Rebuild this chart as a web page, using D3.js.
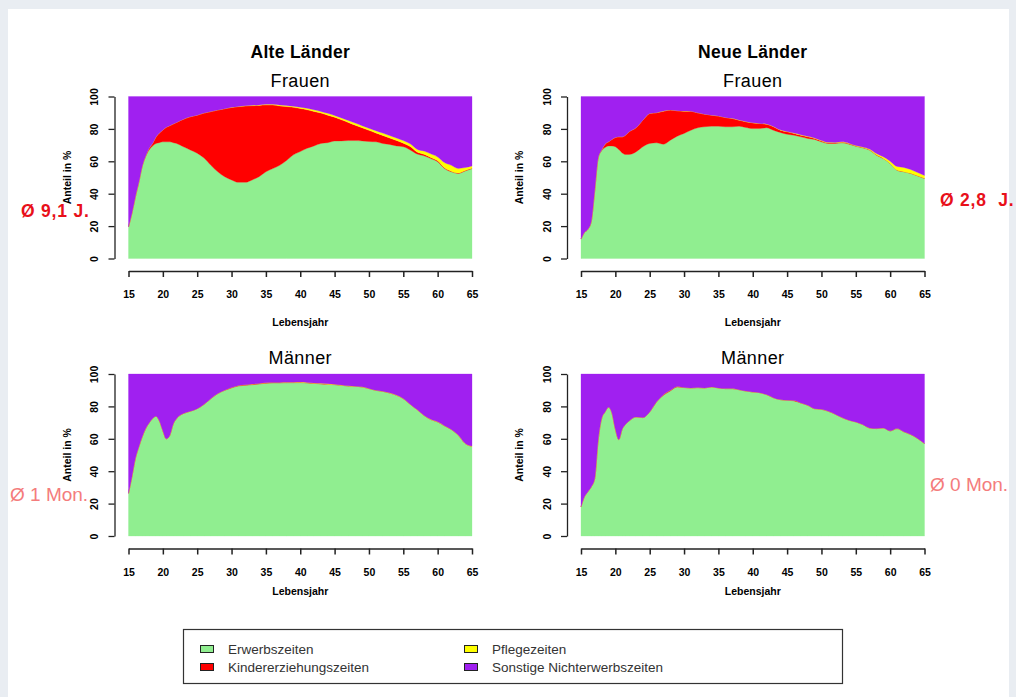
<!DOCTYPE html>
<html>
<head>
<meta charset="utf-8">
<script src="https://cdn.jsdelivr.net/npm/d3@7"></script>
<style>
  html, body { margin: 0; padding: 0; background: #e9edf2; }
  svg { display: block; font-family: "Liberation Sans", Arial, sans-serif; }
</style>
</head>
<body>
<svg id="chart" width="1016" height="697"></svg>
<script>
// Age grid (years); finer steps in the late teens where shares change quickly
const ages = [15, 15.5, 16, 16.5, 17, 17.5, 18, 18.5, 19, 19.5, 20, 20.5, 21, 21.5, 22,
  23, 24, 25, 26, 27, 28, 29, 30, 31, 32, 33, 34, 35, 36, 37, 38, 39, 40,
  41, 42, 43, 44, 45, 46, 47, 48, 49, 50, 51, 52, 53, 54, 55, 56, 57, 58, 59, 60,
  61, 62, 63, 64, 65];

const xTicks = [15, 20, 25, 30, 35, 40, 45, 50, 55, 60, 65];
const yTicks = [0, 20, 40, 60, 80, 100];

const categories = ["Erwerbszeiten", "Kindererziehungszeiten", "Pflegezeiten", "Sonstige Nichterwerbszeiten"];
const categoryColors = ["#90ee90", "#ff0000", "#ffff00", "#a020f0"];

// Alte Länder, Frauen (shares in %)
const altFrauenErwerb = [19.5, 28, 38, 47, 57, 63, 67, 69.5, 71, 71.5, 72, 72, 72, 71.5, 71,
  69, 67, 65, 62, 57.5, 53.5, 50.5, 48.5, 47, 47, 48.5, 50.5, 53.5, 55.5, 57.5, 60.5, 64, 66,
  68, 69.5, 71, 71.5, 72.5, 72.6, 72.8, 72.8, 72.6, 72.2, 72, 71, 70.4, 69.5, 69, 67, 64.5, 63.4, 61.7, 59.7,
  55.5, 53.5, 52.5, 54, 55.5];
const altFrauenKinder = [0, 0, 0, 0, 0, 0.3, 1, 1.5, 4, 6, 7.3, 9, 10, 11.5, 13,
  17, 20.5, 23.5, 27.8, 33.2, 38.1, 41.9, 44.7, 46.7, 47.1, 45.8, 44, 41.2, 39.2, 36.7, 33.3, 29.3, 26.6,
  23.8, 21.3, 18.8, 17, 14.7, 13, 11.2, 9.5, 8.1, 6.9, 5.5, 5, 4, 3.4, 2.2, 2.1, 1.2, 0.9, 0.7, 0.6,
  0.5, 0.4, 0.3, 0.3, 0.2];
const altFrauenPflege = [0, 0, 0, 0, 0, 0, 0, 0, 0, 0, 0, 0, 0, 0, 0,
  0, 0, 0, 0, 0, 0.1, 0.1, 0.1, 0.2, 0.2, 0.3, 0.3, 0.5, 0.5, 0.6, 0.7, 0.7, 0.8,
  0.9, 1.0, 1.0, 1.1, 1.1, 1.2, 1.2, 1.3, 1.3, 1.3, 1.4, 1.4, 1.5, 1.5, 1.6, 1.7, 1.8, 2.0, 2.2, 2.4,
  3.2, 3.6, 2.8, 1.8, 1.4];

// Neue Länder, Frauen
const neuFrauenErwerb = [12, 16, 18, 23, 42, 62, 66.5, 68.5, 69.5, 69.5, 69, 67.3, 65.2, 64.2, 64.2,
  65.8, 69, 71, 71.4, 70.5, 73, 75.5, 77.2, 79.2, 80.7, 81.3, 81.7, 81.7, 81.3, 81.3, 81.7, 80.9, 80.2,
  80.2, 80.7, 79.2, 77.8, 76.7, 76.1, 75.1, 74.1, 73.5, 72, 71, 71, 71.4, 70.6, 69.3, 68.3, 66.9, 63.8, 61.7, 58.6,
  54.5, 53.5, 52.5, 51, 49.4];
const neuFrauenKinder = [0, 0, 0, 0, 0, 0, 0.5, 2, 2.5, 4, 5.7, 7.8, 9.9, 12, 14,
  14.9, 16.4, 18.5, 18.6, 20.4, 18.6, 15.7, 13.7, 11.7, 9.2, 7.8, 6.8, 6.2, 5.7, 5.1, 3.7, 3.5, 3.5,
  3.1, 2.2, 2.1, 1.4, 1.5, 1.1, 1.0, 1.0, 0.6, 0.6, 0.4, 0.3, 0.3, 0.3, 0.2, 0.2, 0.2, 0.2, 0.1, 0.1,
  0.1, 0.1, 0.1, 0.1, 0.1];
const neuFrauenPflege = [0, 0, 0, 0, 0, 0, 0, 0, 0, 0, 0, 0, 0, 0, 0,
  0, 0, 0, 0, 0.1, 0, 0, 0.1, 0, 0, 0, 0, 0.1, 0.1, 0.1, 0.1, 0.1, 0.1,
  0.1, 0.2, 0.2, 0.2, 0.2, 0.2, 0.3, 0.3, 0.3, 0.3, 0.3, 0.3, 0.3, 0.3, 0.3, 0.4, 0.5, 0.8, 1.0, 1.4,
  2.2, 2.6, 2.3, 2.0, 1.8];

// Alte Länder, Männer
const altMaennerErwerb = [26.3, 36.6, 47.8, 55, 61.2, 66.3, 69.8, 72.5, 73.9, 71, 65, 60, 62, 69, 72.5,
  75.6, 77, 78.6, 81.3, 84.8, 87.9, 89.9, 91.4, 92.6, 93, 93.4, 93.8, 94.3, 94.5, 94.5, 94.6, 94.6, 94.7,
  94.5, 94.2, 93.9, 93.6, 93.4, 93, 92.6, 92.4, 92, 91, 89.9, 89.3, 88.3, 86.9, 84.8, 81.3, 78, 74.5, 71.9, 70.4,
  68, 65.7, 62.2, 57.1, 55.4];
const altMaennerKinder = [0, 0, 0, 0, 0, 0, 0, 0, 0, 0, 0, 0, 0, 0, 0,
  0, 0, 0, 0, 0, 0, 0.1, 0.2, 0.3, 0.3, 0.3, 0.3, 0.2, 0.2, 0.2, 0.2, 0.2, 0.2,
  0.1, 0.1, 0.1, 0.1, 0.1, 0, 0, 0, 0, 0, 0, 0, 0, 0, 0, 0, 0, 0, 0, 0,
  0, 0, 0, 0, 0];
const altMaennerPflege = [0, 0, 0, 0, 0, 0, 0, 0, 0, 0, 0, 0, 0, 0, 0,
  0, 0, 0, 0, 0, 0, 0, 0, 0, 0, 0.1, 0.1, 0.1, 0.1, 0.1, 0.1, 0.1, 0.1,
  0.2, 0.2, 0.3, 0.3, 0.2, 0.2, 0.1, 0.1, 0.1, 0.1, 0.1, 0.1, 0.1, 0.1, 0.1, 0.1, 0.1, 0.1, 0.1, 0.1,
  0.1, 0.1, 0.1, 0.1, 0.1];

// Neue Länder, Männer
const neuMaennerErwerb = [18, 24.2, 27.3, 30.4, 35.5, 59.1, 72.5, 76.6, 79.5, 76, 66, 59.5, 66, 69, 71,
  73.5, 73.1, 76.6, 82.8, 86.9, 89.5, 92, 91.6, 91.4, 91.6, 91.4, 92, 91.4, 91, 91, 90.3, 89.5, 88.9,
  88.5, 87.3, 85.4, 84.2, 83.8, 83.4, 82.1, 80.7, 78.6, 78.2, 77, 75.2, 73.1, 71.5, 70.4, 68.8, 66.7, 66.3, 66.7, 64.9,
  66.3, 64.3, 62.6, 60.2, 57.1];
const neuMaennerKinder = [0, 0, 0, 0, 0, 0, 0, 0, 0, 0, 0, 0, 0, 0, 0,
  0, 0, 0, 0, 0.3, 0.4, 0.3, 0.1, 0, 0, 0, 0, 0, 0, 0, 0, 0, 0,
  0, 0, 0, 0, 0, 0.3, 0, 0, 0, 0, 0, 0, 0, 0, 0, 0, 0, 0, 0, 0,
  0, 0, 0, 0, 0];
const neuMaennerPflege = [0, 0, 0, 0, 0, 0, 0, 0, 0, 0, 0, 0, 0, 0, 0,
  0, 0, 0, 0, 0, 0, 0, 0, 0, 0, 0, 0, 0, 0, 0, 0, 0, 0,
  0, 0, 0, 0, 0, 0, 0, 0, 0, 0, 0, 0, 0, 0, 0, 0, 0, 0, 0, 0,
  0, 0, 0, 0, 0];

const panels = [
  { title: "Frauen", header: "Alte Länder", left: 128.5, top: 96.5,
    erwerb: altFrauenErwerb, kinder: altFrauenKinder, pflege: altFrauenPflege },
  { title: "Frauen", header: "Neue Länder", left: 581, top: 96.5,
    erwerb: neuFrauenErwerb, kinder: neuFrauenKinder, pflege: neuFrauenPflege },
  { title: "Männer", left: 128.5, top: 374,
    erwerb: altMaennerErwerb, kinder: altMaennerKinder, pflege: altMaennerPflege },
  { title: "Männer", left: 581, top: 374,
    erwerb: neuMaennerErwerb, kinder: neuMaennerKinder, pflege: neuMaennerPflege }
];

const notes = [
  { text: "Ø 9,1 J.", x: 21, y: 217, bold: true },
  { text: "Ø 2,8  J.", x: 940, y: 206, bold: true },
  { text: "Ø 1 Mon.", x: 10, y: 501, bold: false },
  { text: "Ø 0 Mon.", x: 930, y: 491, bold: false }
];

const svg = d3.select("#chart");
const plotW = 343.5, plotH = 162;

// white sheet
svg.append("rect").attr("x", 8).attr("y", 9).attr("width", 1001).attr("height", 690).attr("fill", "#ffffff");

const keys = ["erwerb", "kinder", "pflege", "sonstige"];

panels.forEach(p => {
  const g = svg.append("g");
  const x = d3.scaleLinear().domain([15, 65]).range([p.left, p.left + plotW]);
  const y = d3.scaleLinear().domain([0, 100]).range([p.top + plotH, p.top]);

  const rows = ages.map((a, i) => {
    const e = p.erwerb[i], k = p.kinder[i], f = p.pflege[i];
    return { age: a, erwerb: e, kinder: k, pflege: f, sonstige: 100 - e - k - f };
  });
  const series = d3.stack().keys(keys)(rows);
  const area = d3.area()
    .x(d => x(d.data.age))
    .y0(d => y(d[0]))
    .y1(d => y(d[1]))
    .curve(d3.curveMonotoneX);

  g.selectAll("path.layer").data(series).join("path")
    .attr("class", "layer")
    .attr("d", area)
    .attr("fill", (d, i) => categoryColors[i])
    .attr("stroke", (d, i) => categoryColors[i])
    .attr("stroke-width", 0.3);

  // y axis
  const yAxis = d3.axisLeft(y).tickValues(yTicks).tickSize(6).tickSizeOuter(0);
  const ya = g.append("g").attr("transform", `translate(${p.left - 14},0)`).call(yAxis);
  ya.select(".domain").attr("stroke", "#222").attr("stroke-width", 1.3);
  ya.selectAll(".tick line").attr("stroke", "#222").attr("stroke-width", 1.3);
  ya.selectAll(".tick text")
    .attr("transform", "rotate(-90)")
    .attr("x", 0).attr("y", -16.3).attr("dy", 0)
    .attr("text-anchor", "middle")
    .attr("font-size", 10.5).attr("font-weight", "bold").attr("fill", "#000")
    .attr("font-family", "Liberation Sans, Arial, sans-serif");

  g.append("text")
    .attr("transform", `translate(${p.left - 58},${p.top + plotH / 2}) rotate(-90)`)
    .attr("text-anchor", "middle")
    .attr("font-size", 10.5).attr("font-weight", "bold")
    .text("Anteil in %");

  // x axis
  const xAxis = d3.axisBottom(x).tickValues(xTicks).tickSize(6).tickSizeOuter(0).tickFormat(d3.format("d"));
  const xa = g.append("g").attr("transform", `translate(0,${p.top + plotH + 12.5})`).call(xAxis);
  xa.select(".domain").attr("stroke", "#222").attr("stroke-width", 1.5);
  xa.selectAll(".tick line").attr("stroke", "#222").attr("stroke-width", 1.5);
  xa.selectAll(".tick text")
    .attr("y", 23.5).attr("dy", "0.35em")
    .attr("font-size", 10.5).attr("font-weight", "bold").attr("fill", "#000")
    .attr("font-family", "Liberation Sans, Arial, sans-serif");

  g.append("text")
    .attr("x", p.left + plotW / 2)
    .attr("y", p.top + plotH + (p.header ? 67.5 : 59))
    .attr("text-anchor", "middle")
    .attr("font-size", 10.5).attr("font-weight", "bold")
    .text("Lebensjahr");

  // titles
  g.append("text")
    .attr("x", p.left + plotW / 2).attr("y", p.top - 10)
    .attr("text-anchor", "middle").attr("font-size", 18)
    .attr("letter-spacing", 0.4)
    .text(p.title);
  if (p.header) {
    g.append("text")
      .attr("x", p.left + plotW / 2).attr("y", 57.5)
      .attr("text-anchor", "middle").attr("font-size", 17.5).attr("font-weight", "bold")
      .attr("letter-spacing", 0.3)
      .text(p.header);
  }
});

// average durations beside the panels
svg.selectAll("text.note").data(notes).join("text")
  .attr("class", "note")
  .attr("x", d => d.x).attr("y", d => d.y)
  .attr("font-size", d => d.bold ? 17.5 : 19)
  .attr("font-weight", d => d.bold ? "bold" : "normal")
  .attr("letter-spacing", d => d.bold ? 0.8 : 0)
  .attr("fill", d => d.bold ? "#e8101a" : "#f47c7c")
  .style("white-space", "pre")
  .text(d => d.text);

// legend
const legend = svg.append("g");
legend.append("rect")
  .attr("x", 183.5).attr("y", 629.5).attr("width", 659).attr("height", 54)
  .attr("fill", "#fff").attr("stroke", "#333").attr("stroke-width", 1.2);

const legendPos = [
  { x: 200, y: 649 }, { x: 200, y: 667 }, { x: 464, y: 649 }, { x: 464, y: 667 }
];
categories.forEach((name, i) => {
  const pos = legendPos[i];
  legend.append("rect")
    .attr("x", pos.x + 0.5).attr("y", pos.y - 3.5)
    .attr("width", 13).attr("height", 7)
    .attr("fill", categoryColors[i]).attr("stroke", "#222").attr("stroke-width", 1);
  legend.append("text")
    .attr("x", pos.x + 28).attr("y", pos.y + 5)
    .attr("font-size", 13.5).attr("fill", "#333")
    .text(name);
});
</script>
</body>
</html>
